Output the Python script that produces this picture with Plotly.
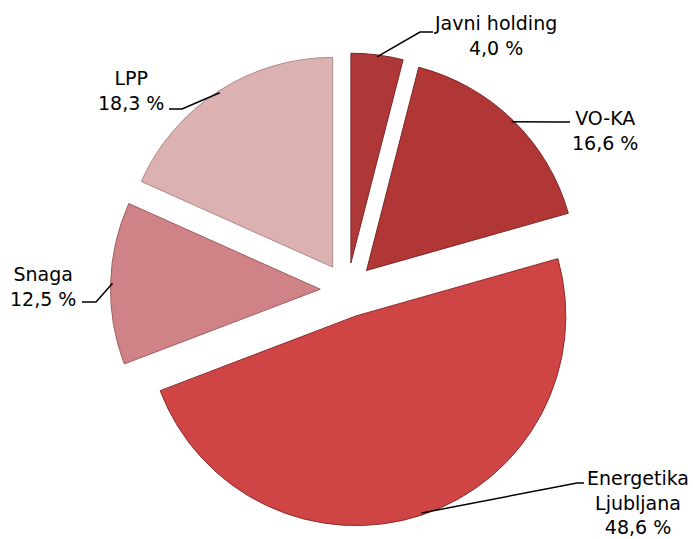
import math
import plotly.graph_objects as go

# ---- data ----
categories = ["Javni holding", "VO-KA", "Energetika Ljubljana", "Snaga", "LPP"]
display_names = ["Javni holding", "VO-KA", "Energetika<br>Ljubljana", "Snaga", "LPP"]
shares = [4.0, 16.6, 48.6, 12.5, 18.3]

# ---- style ----
colors = ["#ae3838", "#b13636", "#cf4545", "#d08386", "#dcb1b1"]
edge_colors = ["#7e2424", "#7e2424", "#8e2c2c", "#a05e60", "#b08888"]
pulls = [0.13, 0.13, 0.13, 0.13, 0.13]
W, H = 693, 539
pie_left, pie_right, pie_top, pie_bottom = 2, 0, 53, 12
font_family = "DejaVu Sans"
font_size = 19
# label block centres (px) and leader elbow/end points (px)
label_pos = [(495, 35), (605, 130), (638, 503), (43, 286), (131, 90)]
elbows = [((420, 32), (433, 32)),
          ((560, 122), (570, 122)),
          ((577, 483), (584, 483)),
          ((96, 302), (82, 302)),
          ((182, 109), (169, 109))]

# ---- geometry derived from plotly's pie layout ----
box_w = W - pie_left - pie_right
box_h = H - pie_top - pie_bottom
cx = pie_left + box_w / 2
cy = pie_top + box_h / 2
r = min(box_w, box_h) / 2 / (1 + max(pulls))
total = sum(shares)

def px_to_paper(x, y):
    return x / W, 1 - y / H

fig = go.Figure()
fig.add_trace(go.Pie(
    labels=categories, values=shares, sort=False, direction="clockwise",
    rotation=0, pull=pulls, textinfo="none", hoverinfo="label+percent",
    marker=dict(colors=colors, line=dict(color=edge_colors, width=1)),
    domain=dict(x=[pie_left / W, 1 - pie_right / W],
                y=[pie_bottom / H, 1 - pie_top / H]),
    showlegend=False,
))

annotations = []
shapes = []
cum = 0.0
for i, v in enumerate(shares):
    mid = (cum + v / 2) / total * 2 * math.pi
    cum += v
    dist = r * (1 + pulls[i]) - 2
    sx = cx + dist * math.sin(mid)
    sy = cy - dist * math.cos(mid)
    (ex, ey), (hx, hy) = elbows[i]
    p0 = px_to_paper(sx, sy)
    p1 = px_to_paper(ex, ey)
    p2 = px_to_paper(hx, hy)
    shapes.append(dict(type="path", xref="paper", yref="paper",
                       path=f"M {p0[0]},{p0[1]} L {p1[0]},{p1[1]} L {p2[0]},{p2[1]}",
                       line=dict(color="black", width=1.5)))
    pct = f"{v:.1f}".replace(".", ",") + " %"
    lx, ly = px_to_paper(*label_pos[i])
    annotations.append(dict(text=f"{display_names[i]}<br>{pct}", x=lx, y=ly,
                            xref="paper", yref="paper", xanchor="center",
                            yanchor="middle", align="center", showarrow=False,
                            font=dict(family=font_family, size=font_size, color="black")))

fig.update_layout(
    width=W, height=H, margin=dict(l=0, r=0, t=0, b=0),
    paper_bgcolor="white", plot_bgcolor="white",
    annotations=annotations, shapes=shapes,
)
fig.write_html(
    "out.html",
    config={"displayModeBar": False},
    post_script="document.body.style.margin='0px';document.body.style.overflow='hidden';",
)
